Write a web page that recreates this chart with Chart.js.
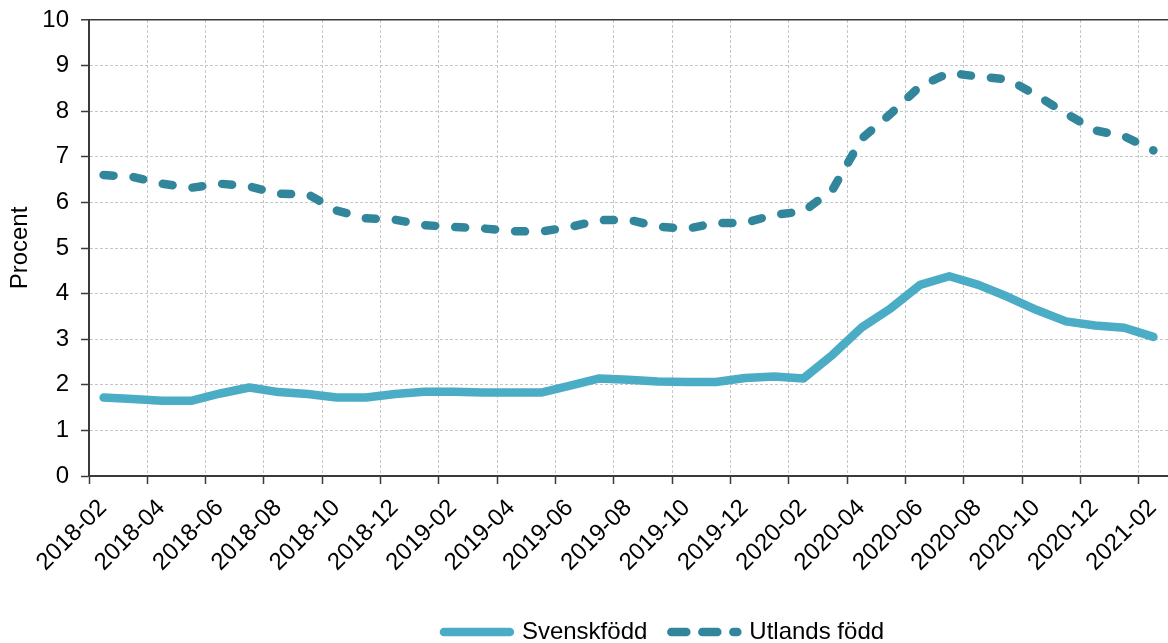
<!DOCTYPE html>
<html>
<head>
<meta charset="utf-8">
<script src="https://cdn.jsdelivr.net/npm/chart.js@4.4.0/dist/chart.umd.min.js"></script>
<style>
html,body{margin:0;padding:0;background:#fff;}
#c{display:block;}
</style>
</head>
<body>
<canvas id="c" width="1168" height="643"></canvas>
<script>
// ---- Data ----
const months = ['2018-02','2018-03','2018-04','2018-05','2018-06','2018-07','2018-08','2018-09','2018-10','2018-11','2018-12',
  '2019-01','2019-02','2019-03','2019-04','2019-05','2019-06','2019-07','2019-08','2019-09','2019-10','2019-11','2019-12',
  '2020-01','2020-02','2020-03','2020-04','2020-05','2020-06','2020-07','2020-08','2020-09','2020-10','2020-11','2020-12',
  '2021-01','2021-02'];
const xTickLabels = ['2018-02','2018-04','2018-06','2018-08','2018-10','2018-12','2019-02','2019-04','2019-06','2019-08',
  '2019-10','2019-12','2020-02','2020-04','2020-06','2020-08','2020-10','2020-12','2021-02'];
const yTicks = [0,1,2,3,4,5,6,7,8,9,10];
const seriesNames = ['Svenskfödd','Utlands född'];
const svenskfodd = [1.72,1.69,1.65,1.65,1.81,1.94,1.84,1.80,1.72,1.72,1.80,1.85,1.85,1.83,1.83,1.83,1.98,2.14,2.11,2.07,
  2.06,2.06,2.15,2.18,2.14,2.66,3.26,3.68,4.19,4.38,4.19,3.93,3.64,3.39,3.30,3.25,3.05];
const utlandsFodd = [6.60,6.56,6.41,6.32,6.41,6.35,6.19,6.18,5.82,5.65,5.62,5.50,5.46,5.43,5.37,5.36,5.46,5.61,5.62,5.47,
  5.42,5.55,5.55,5.73,5.80,6.28,7.40,7.95,8.55,8.84,8.76,8.70,8.35,7.95,7.58,7.45,7.14];

// ---- Styling ----
const FONT = {family: "'Liberation Sans', Arial, sans-serif", size: 24};
const GRID = '#c6c6c6';
const AXIS = '#3a3a3a';
const C1 = '#4BACC6';
const C2 = '#31869B';
const LEGEND_SHIFT = 80;

const toPoints = arr => arr.map((v, i) => ({x: i + 0.5, y: v}));

const legendShift = {
  id: 'legendShift',
  afterLayout(chart) {
    const l = chart.legend;
    if (l) { l.left += LEGEND_SHIFT; l.right += LEGEND_SHIFT; }
  }
};

new Chart(document.getElementById('c'), {
  type: 'line',
  data: {
    datasets: [
      {label: seriesNames[0], data: toPoints(svenskfodd), borderColor: C1, backgroundColor: C1,
       borderWidth: 8.5, pointRadius: 0, tension: 0, borderCapStyle: 'round', borderJoinStyle: 'round'},
      {label: seriesNames[1], data: toPoints(utlandsFodd), borderColor: C2, backgroundColor: C2,
       borderWidth: 8.5, pointRadius: 0, tension: 0, borderDash: [10, 20], borderCapStyle: 'round', borderJoinStyle: 'round'}
    ]
  },
  options: {
    responsive: false,
    animation: false,
    devicePixelRatio: 1,
    layout: {padding: {top: 20, right: 0, bottom: -11, left: 0}},
    scales: {
      x: {
        type: 'linear', min: 0, max: months.length,
        afterFit: s => { s.height = 120; s.paddingLeft = 0; s.paddingRight = 0; },
        afterBuildTicks: s => { s.ticks = xTickLabels.map((_, i) => ({value: i * 2})); },
        ticks: {
          autoSkip: false, minRotation: 45, maxRotation: 45, font: FONT, color: '#000',
          padding: 10, labelOffset: 14,
          callback: v => xTickLabels[v / 2] ?? ''
        },
        grid: {color: GRID, lineWidth: 1, tickLength: 8, tickColor: AXIS, tickWidth: 1.5},
        border: {color: AXIS, width: 2, dash: [3, 2]}
      },
      y: {
        min: 0, max: 10,
        afterFit: s => { s.width = 89; s.paddingTop = 0; },
        afterBuildTicks: s => { s.ticks = yTicks.map(v => ({value: v})); },
        ticks: {font: FONT, color: '#000', padding: 12},
        title: {display: true, text: 'Procent', font: FONT, color: '#000', padding: {top: 6, bottom: 0}},
        grid: {
          color: c => (c.tick && c.tick.value === 10) ? AXIS : GRID,
          lineWidth: c => (c.tick && c.tick.value === 10) ? 1.5 : 1,
          tickLength: 8, tickColor: AXIS, tickWidth: 1.5
        },
        border: {color: AXIS, width: 2, dash: c => (c.tick && c.tick.value === 10) ? [] : [3, 2]}
      }
    },
    plugins: {
      tooltip: {enabled: false},
      legend: {
        position: 'bottom',
        labels: {
          font: FONT, color: '#000', usePointStyle: true, pointStyle: 'line', pointStyleWidth: 66, padding: 24,
          generateLabels: chart => Chart.defaults.plugins.legend.labels.generateLabels(chart).map((it, i) => {
            it.pointStyle = 'line';
            it.lineCap = 'round';
            if (i === 1) it.lineDash = [15, 16];
            return it;
          })
        }
      }
    }
  },
  plugins: [legendShift]
});
</script>
</body>
</html>
